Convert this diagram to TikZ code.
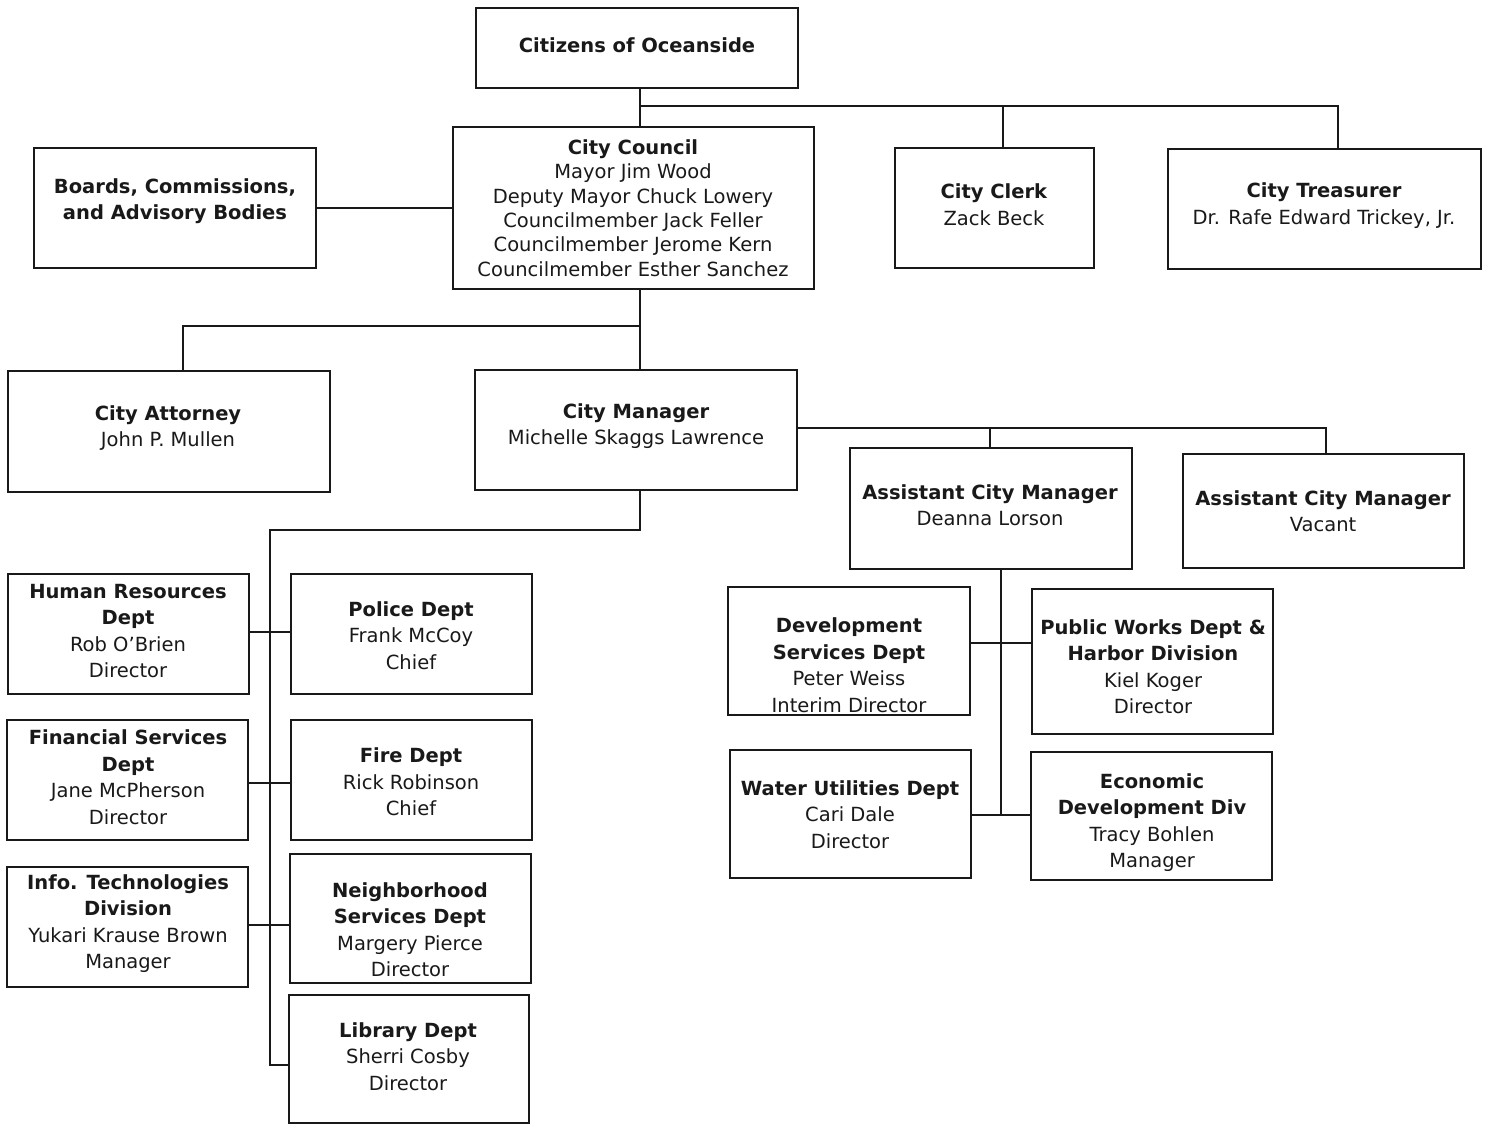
\documentclass[tikz,border=0pt]{standalone}
\usepackage{fontspec}
\setmainfont{DejaVu Sans}
\begin{document}
\begin{tikzpicture}[x=1pt,y=-1pt,
  box/.style={draw=black!90,line width=2.6pt,rectangle,inner sep=0pt,fill=white},
  txt/.style={align=center,inner sep=0pt,text=black!90,font=\fontsize{19.5}{26.5}\selectfont},
  txtc/.style={align=center,inner sep=0pt,text=black!90,font=\fontsize{19.5}{24.4}\selectfont},
  link/.style={draw=black!90,line width=2.2pt}]
\useasboundingbox[fill=white] (0,0) rectangle (1490,1127);

% junction coordinates
\coordinate (a1) at (640,106);
\coordinate (cl) at (1003,106);
\coordinate (tr) at (1338,106);
\coordinate (b1) at (640,326);
\coordinate (at) at (183,326);
\coordinate (m2) at (1326,428);
\coordinate (m3) at (990,428);
\coordinate (c1) at (640,530);
\coordinate (c2) at (270,530);
\coordinate (c3) at (270,1065);
\coordinate (d0) at (1001,569);
\coordinate (d1) at (1001,815);
\coordinate (e1) at (1001,643);
\coordinate (h1) at (0,632);
\coordinate (f1) at (0,783);
\coordinate (i1) at (0,925);

% boxes
\node[box,minimum width=322,minimum height=80]  (cit)     at (637,48) {};
\node[box,minimum width=361,minimum height=162] (council) at (633.5,208) {};
\node[box,minimum width=282,minimum height=120] (boards)  at (175,208) {};
\node[box,minimum width=199,minimum height=120] (clerk)   at (994.5,208) {};
\node[box,minimum width=313,minimum height=120] (treas)   at (1324.5,209) {};
\node[box,minimum width=322,minimum height=121] (atty)    at (169,431.5) {};
\node[box,minimum width=322,minimum height=120] (mgr)     at (636,430) {};
\node[box,minimum width=282,minimum height=121] (acma)    at (991,508.5) {};
\node[box,minimum width=281,minimum height=114] (acmb)    at (1323.5,511) {};
\node[box,minimum width=241,minimum height=120] (hr)      at (128.5,634) {};
\node[box,minimum width=241,minimum height=120] (police)  at (411.5,634) {};
\node[box,minimum width=241,minimum height=120] (fin)     at (127.5,780) {};
\node[box,minimum width=241,minimum height=120] (fire)    at (411.5,780) {};
\node[box,minimum width=241,minimum height=120] (it)      at (127.5,927) {};
\node[box,minimum width=241,minimum height=129] (neigh)   at (410.5,918.5) {};
\node[box,minimum width=240,minimum height=128] (lib)     at (409,1059) {};
\node[box,minimum width=242,minimum height=128] (dev)     at (849,651) {};
\node[box,minimum width=241,minimum height=145] (pw)      at (1152.5,661.5) {};
\node[box,minimum width=241,minimum height=128] (water)   at (850.5,814) {};
\node[box,minimum width=241,minimum height=128] (econ)    at (1151.5,816) {};

% connectors
\draw[link] (cit.south -| a1) -- (council.north -| a1);
\draw[link] (a1) -- (tr) -- (treas.north -| tr);
\draw[link] (cl) -- (clerk.north -| cl);
\draw[link] (boards.east) -- (council.west);
\draw[link] (council.south -| b1) -- (mgr.north -| b1);
\draw[link] (b1) -- (at) -- (atty.north -| at);
\draw[link] (mgr.east |- m2) -- (m2) -- (acmb.north -| m2);
\draw[link] (m3) -- (acma.north -| m3);
\draw[link] (mgr.south -| c1) -- (c1) -- (c2) -- (c3) -- (lib.west |- c3);
\draw[link] (hr.east |- h1) -- (police.west |- h1);
\draw[link] (fin.east |- f1) -- (fire.west |- f1);
\draw[link] (it.east |- i1) -- (neigh.west |- i1);
\draw[link] (acma.south -| d0) -- (d1);
\draw[link] (dev.east |- e1) -- (pw.west |- e1);
\draw[link] (water.east |- d1) -- (econ.west |- d1);

% texts
\node[txt]  (cit-t)     at (637,45) {\textbf{Citizens of Oceanside}};
\node[txtc] (council-t) at (633,208) {\textbf{City Council}\\Mayor Jim Wood\\Deputy Mayor Chuck Lowery\\Councilmember Jack Feller\\Councilmember Jerome Kern\\Councilmember Esther Sanchez};
\node[txt]  (boards-t)  at (175,201) {\textbf{Boards, Commissions,}\\\textbf{and Advisory Bodies}};
\node[txt]  (clerk-t)   at (994,204.5) {\textbf{City Clerk}\\Zack Beck};
\node[txt]  (treas-t)   at (1324,205.5) {\textbf{City Treasurer}\\Dr. Rafe Edward Trickey, Jr.};
\node[txt]  (atty-t)    at (168,428) {\textbf{City Attorney}\\John P. Mullen};
\node[txt]  (mgr-t)     at (636,426) {\textbf{City Manager}\\Michelle Skaggs Lawrence};
\node[txt]  (acma-t)    at (990,505) {\textbf{Assistant City Manager}\\Deanna Lorson};
\node[txt]  (acmb-t)    at (1323,511) {\textbf{Assistant City Manager}\\Vacant};
\node[txt]  (hr-t)      at (128,631) {\textbf{Human Resources}\\\textbf{Dept}\\Rob O’Brien\\Director};
\node[txt]  (police-t)  at (411,635.5) {\textbf{Police Dept}\\Frank McCoy\\Chief};
\node[txt]  (fin-t)     at (128,777) {\textbf{Financial Services}\\\textbf{Dept}\\Jane McPherson\\Director};
\node[txt]  (fire-t)    at (411,782) {\textbf{Fire Dept}\\Rick Robinson\\Chief};
\node[txt]  (it-t)      at (128,923.5) {\textbf{Info. Technologies}\\\textbf{Division}\\Yukari Krause Brown\\Manager};
\node[txt]  (neigh-t)   at (410,929.5) {\textbf{Neighborhood}\\\textbf{Services Dept}\\Margery Pierce\\Director};
\node[txt]  (lib-t)     at (408,1056.5) {\textbf{Library Dept}\\Sherri Cosby\\Director};
\node[txt]  (dev-t)     at (849,665) {\textbf{Development}\\\textbf{Services Dept}\\Peter Weiss\\Interim Director};
\node[txt]  (pw-t)      at (1153,666.5) {\textbf{Public Works Dept \&}\\\textbf{Harbor Division}\\Kiel Koger\\Director};
\node[txt]  (water-t)   at (850,814.5) {\textbf{Water Utilities Dept}\\Cari Dale\\Director};
\node[txt]  (econ-t)    at (1152,822.5) {\textbf{Economic}\\\textbf{Development Div}\\Tracy Bohlen\\Manager};
\end{tikzpicture}
\end{document}
